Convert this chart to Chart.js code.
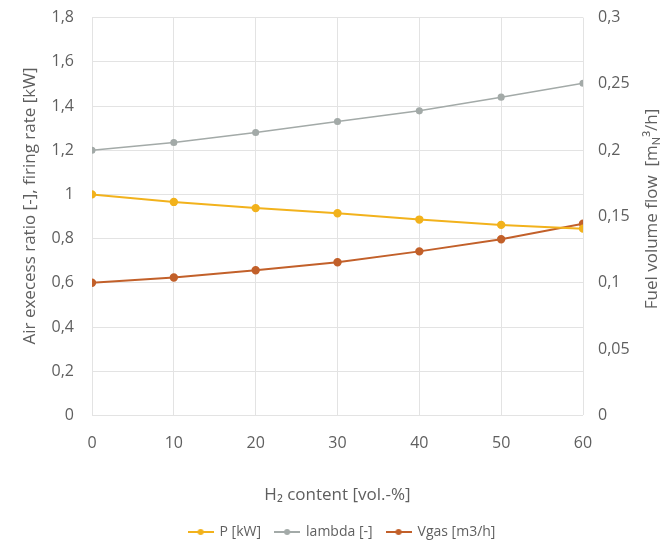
<!DOCTYPE html>
<html>
<head>
<meta charset="utf-8">
<script src="https://cdn.jsdelivr.net/npm/chart.js@4"></script>
<style>
html,body{margin:0;padding:0;background:#fff;}
#wrap{width:666px;height:543px;overflow:hidden;position:relative;}
#c{display:block;position:absolute;left:0;top:-10px;}
</style>
</head>
<body>
<div id="wrap"><canvas id="c" width="666" height="559"></canvas></div>
<script>
const h2Content = [0, 10, 20, 30, 40, 50, 60];
const pKW = [1.0, 0.966, 0.938, 0.915, 0.886, 0.862, 0.845];
const lambda = [1.2, 1.235, 1.28, 1.33, 1.378, 1.44, 1.503];
const vgas = [0.1, 0.104, 0.1095, 0.1155, 0.1237, 0.1328, 0.1445];
const seriesNames = ['P [kW]', 'lambda [-]', 'Vgas [m3/h]'];
const xTitle = 'H₂ content [vol.-%]';
const yLeftTitle = 'Air execess ratio [-], firing rate [kW]';
const yRightTitleParts = ['Fuel volume flow  [m', 'N', '³/h]'];

const colP = '#f2b21c';
const colL = '#a3aaa8';
const colV = '#c2602a';
const textCol = '#5f5f5f';
const FONT = '"Open Sans", Lato, sans-serif';
const SHIFT = 10; // canvas is offset 10px upwards

function pts(vals){ return h2Content.map((x,i)=>({x:x,y:vals[i]})); }
function fmt(v, d){ return String(Number(v.toFixed(d))).replace('.', ','); }

function legendIcon(color){
  const c = document.createElement('canvas');
  c.width = 26; c.height = 10;
  const g = c.getContext('2d');
  g.strokeStyle = color; g.lineWidth = 2;
  g.beginPath(); g.moveTo(0,5); g.lineTo(26,5); g.stroke();
  g.fillStyle = color;
  g.beginPath(); g.arc(13,5,3,0,Math.PI*2); g.fill();
  return c;
}

// Axis titles drawn rotated -90 (read bottom to top)
const axisTitlesPlugin = {
  id: 'axisTitles',
  afterDraw(chart){
    const ctx = chart.ctx;
    const big = '17px ' + FONT, small = '11px ' + FONT;
    ctx.save();
    ctx.fillStyle = textCol;
    ctx.textBaseline = 'middle';
    ctx.save();
    ctx.translate(30, 206 + SHIFT);
    ctx.rotate(-Math.PI/2);
    ctx.font = big; ctx.textAlign = 'center';
    ctx.fillText(yLeftTitle, 0, 0);
    ctx.restore();
    ctx.save();
    ctx.translate(652, 209 + SHIFT);
    ctx.rotate(-Math.PI/2);
    ctx.font = big; const w1 = ctx.measureText(yRightTitleParts[0]).width;
    const w3 = ctx.measureText(yRightTitleParts[2]).width;
    ctx.font = small; const w2 = ctx.measureText(yRightTitleParts[1]).width;
    let x = -(w1+w2+w3)/2;
    ctx.textAlign = 'left';
    ctx.font = big; ctx.fillText(yRightTitleParts[0], x, 0); x += w1;
    ctx.font = small; ctx.fillText(yRightTitleParts[1], x, 5); x += w2;
    ctx.font = big; ctx.fillText(yRightTitleParts[2], x, 0);
    ctx.restore();
    ctx.restore();
  }
};

Chart.defaults.font.family = FONT;
Chart.defaults.color = textCol;

new Chart(document.getElementById('c'), {
  type: 'line',
  data: {
    datasets: [
      {label: seriesNames[0], data: pts(pKW), yAxisID: 'y', borderColor: colP, backgroundColor: colP,
       borderWidth: 2, pointRadius: 3.2, pointHoverRadius: 3.2, tension: 0, pointStyleIcon: legendIcon(colP)},
      {label: seriesNames[1], data: pts(lambda), yAxisID: 'y', borderColor: colL, backgroundColor: colL,
       borderWidth: 1.5, pointRadius: 2.8, pointHoverRadius: 2.8, tension: 0, pointStyleIcon: legendIcon(colL)},
      {label: seriesNames[2], data: pts(vgas), yAxisID: 'y1', borderColor: colV, backgroundColor: colV,
       borderWidth: 2, pointRadius: 3.2, pointHoverRadius: 3.2, tension: 0, pointStyleIcon: legendIcon(colV)}
    ]
  },
  options: {
    responsive: false,
    animation: false,
    layout: {autoPadding: false, padding: {left: 22, right: 4, top: 18, bottom: 0}},
    plugins: {
      tooltip: {enabled: false},
      legend: {
        position: 'bottom',
        labels: {
          usePointStyle: true,
          pointStyleWidth: 24,
          color: textCol,
          font: {size: 14, family: FONT},
          padding: 14,
          generateLabels(chart){
            return chart.data.datasets.map((ds,i)=>({
              text: ds.label, pointStyle: ds.pointStyleIcon, fillStyle: ds.borderColor,
              strokeStyle: ds.borderColor, lineWidth: 0, hidden: false, datasetIndex: i, fontColor: textCol
            }));
          }
        }
      }
    },
    scales: {
      x: {
        type: 'linear', min: 0, max: 60,
        ticks: {stepSize: 10, color: textCol, font: {size: 16}, padding: 18},
        grid: {color: '#e3e3e3', drawTicks: false},
        border: {display: false},
        title: {display: true, text: xTitle, color: textCol, font: {size: 17}, padding: {top: 14, bottom: 6}}
      },
      y: {
        position: 'left', min: 0, max: 1.8,
        ticks: {stepSize: 0.2, color: textCol, font: {size: 16}, padding: 18, callback: v => fmt(v,1)},
        grid: {color: '#e3e3e3', drawTicks: false},
        border: {display: false},
        title: {display: false},
        afterFit(s){ s.width = 70; }
      },
      y1: {
        position: 'right', min: 0, max: 0.3,
        ticks: {stepSize: 0.05, color: textCol, font: {size: 16}, padding: 15, callback: v => fmt(v,2)},
        grid: {display: false, drawTicks: false},
        border: {display: false},
        title: {display: false},
        afterFit(s){ s.width = 79; }
      }
    }
  },
  plugins: [axisTitlesPlugin]
});
</script>
</body>
</html>
